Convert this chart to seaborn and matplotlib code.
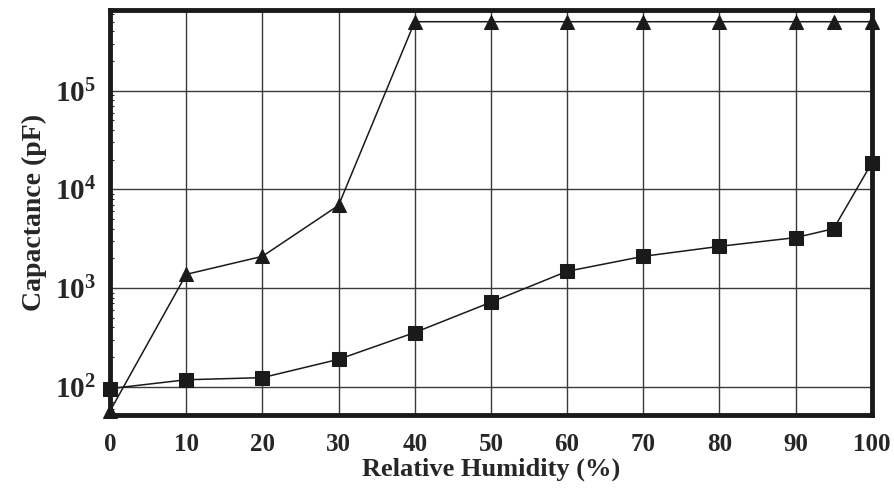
import matplotlib
matplotlib.use("Agg")
import matplotlib.pyplot as plt
import seaborn as sns
import pandas as pd
from matplotlib.ticker import FixedLocator, LogLocator, NullFormatter

# values
rh_tri = [0, 10, 20, 30, 40, 50, 60, 70, 80, 90, 95, 100]
cap_tri = [57, 1380, 2100, 6900, 5.0e5, 5.0e5, 5.0e5, 5.0e5, 5.0e5, 5.0e5, 5.0e5, 5.0e5]
rh_sq = [0, 10, 20, 30, 40, 50, 60, 70, 80, 90, 95, 100]
cap_sq = [96, 118, 124, 190, 355, 720, 1480, 2100, 2650, 3250, 4000, 18500]
x_ticks = [0, 10, 20, 30, 40, 50, 60, 70, 80, 90, 100]
y_ticks = [1e2, 1e3, 1e4, 1e5]
y_labels = [r"$\mathbf{10^{2}}$", r"$\mathbf{10^{3}}$", r"$\mathbf{10^{4}}$", r"$\mathbf{10^{5}}$"]

sns.set_style("white")
plt.rcParams["font.family"] = ["Liberation Serif", "DejaVu Serif"]
plt.rcParams["font.weight"] = "bold"
plt.rcParams["mathtext.fontset"] = "custom"
plt.rcParams["mathtext.rm"] = "Liberation Serif:bold"
plt.rcParams["mathtext.bf"] = "Liberation Serif:bold"

fig = plt.figure(figsize=(8.95, 4.91), dpi=100)
ax = fig.add_axes([0.123, 0.155, 0.851, 0.825])

df_tri = pd.DataFrame({"rh": rh_tri, "cap": cap_tri})
df_sq = pd.DataFrame({"rh": rh_sq, "cap": cap_sq})

sns.lineplot(data=df_tri, x="rh", y="cap", ax=ax, color="#1a1a1a", lw=1.1,
             marker="^", markersize=10, markeredgecolor="#1a1a1a", clip_on=False, zorder=5)
sns.lineplot(data=df_sq, x="rh", y="cap", ax=ax, color="#1a1a1a", lw=1.1,
             marker="s", markersize=10, markeredgecolor="#1a1a1a", clip_on=False, zorder=5)

ax.set_yscale("log")
ax.set_xlim(0, 100)
ax.set_ylim(52, 6.6e5)

ax.xaxis.set_major_locator(FixedLocator(x_ticks))
ax.set_xticklabels([str(v) for v in x_ticks], fontsize=18, fontweight="bold")
ax.yaxis.set_major_locator(FixedLocator(y_ticks))
ax.set_yticklabels(y_labels, fontsize=21)
ax.yaxis.set_minor_locator(LogLocator(base=10, subs=range(2, 10)))
ax.yaxis.set_minor_formatter(NullFormatter())

ax.tick_params(axis="x", which="major", direction="in", length=0, pad=13)
ax.tick_params(axis="y", which="major", direction="in", length=0, pad=10)
ax.tick_params(axis="y", which="minor", direction="in", length=3, width=0.8, left=True)

ax.grid(True, which="major", color="#3a3a3a", lw=1.0)
for s in ax.spines.values():
    s.set_linewidth(3.5)
    s.set_color("#1a1a1a")

ax.set_xlabel("Relative Humidity (%)", fontsize=19, fontweight="bold", labelpad=1)
ax.set_ylabel("Capactance (pF)", fontsize=20, fontweight="bold", labelpad=6)

fig.savefig("out.png", dpi=100)
